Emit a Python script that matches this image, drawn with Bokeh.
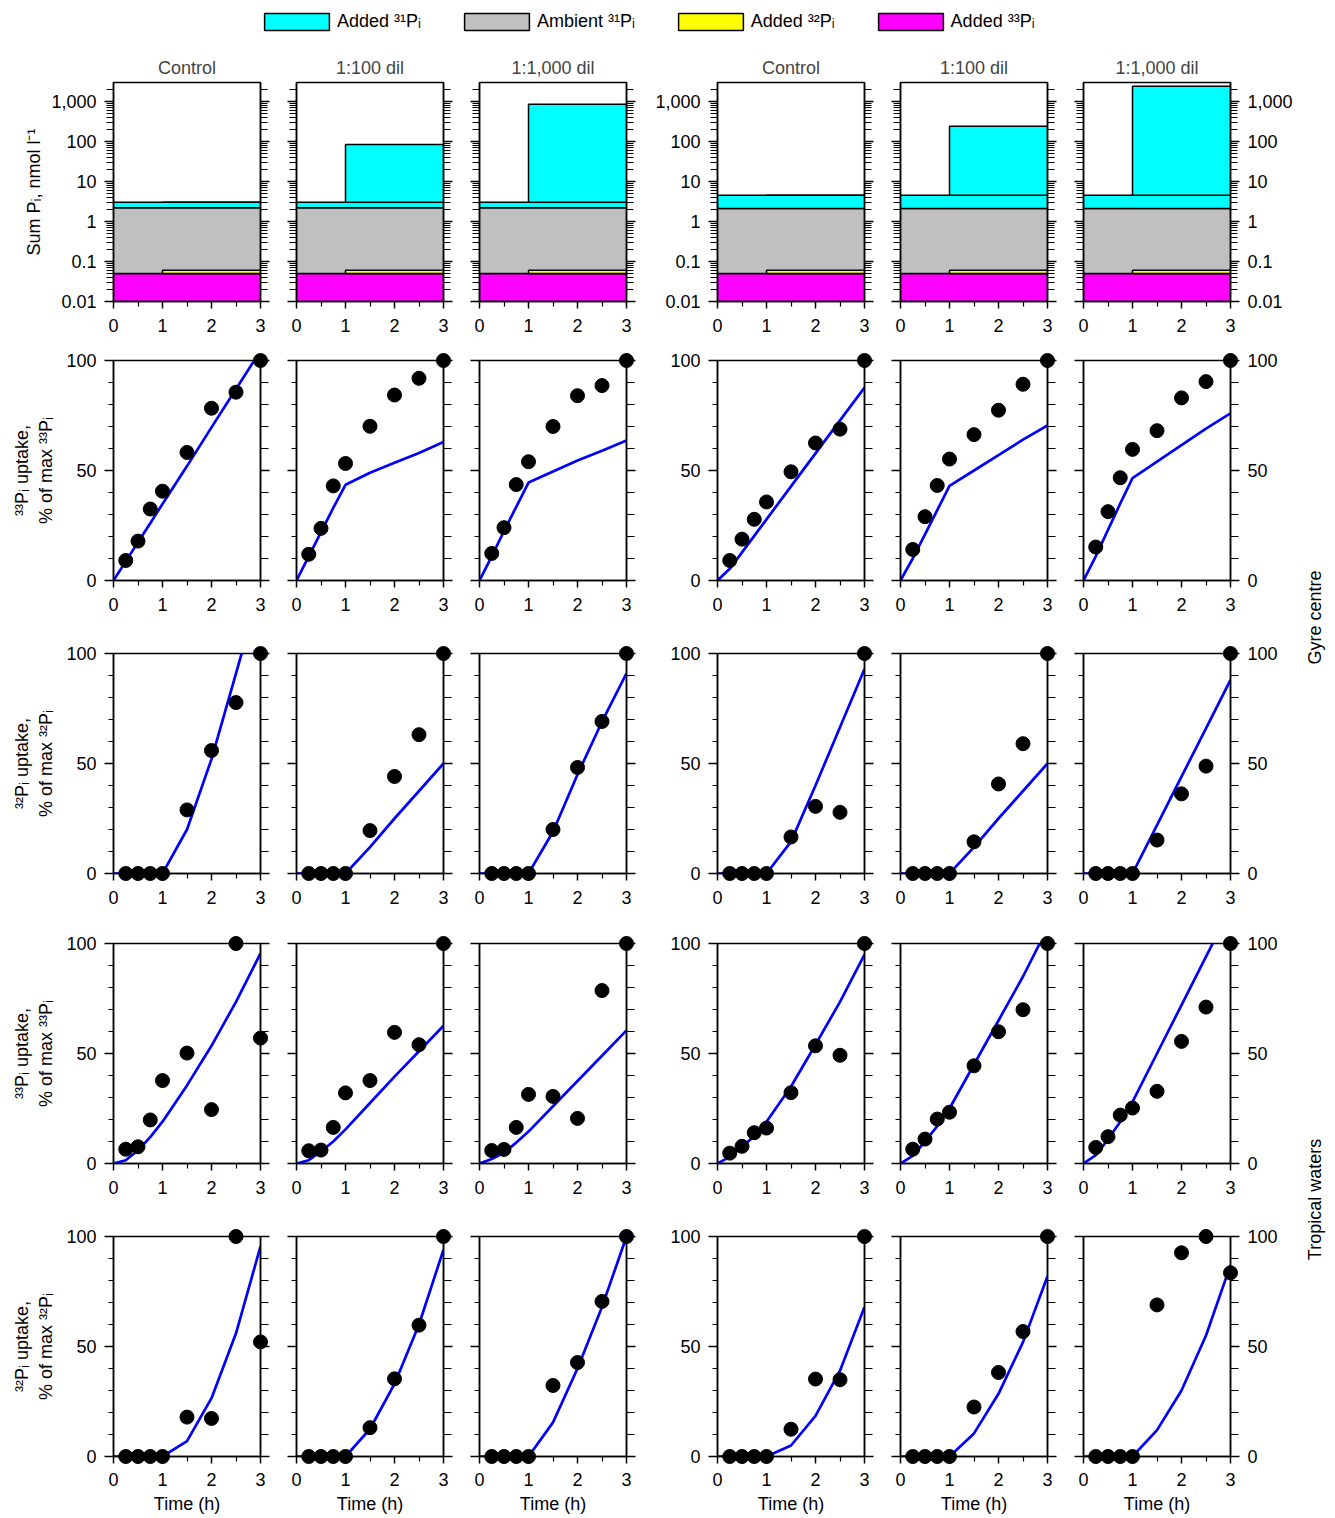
import numpy as np
from bokeh.plotting import figure
from bokeh.models import (LinearAxis, LogAxis, FixedTicker, Range1d, Legend, LegendItem,
                          CustomJSTickFormatter)
from bokeh.layouts import gridplot, column, row
from bokeh.embed import file_html
from bokeh.resources import INLINE
from bokeh.core.properties import value

# ---------------- data ----------------
conditions = ["Control", "1:100 dil", "1:1,000 dil", "Control", "1:100 dil", "1:1,000 dil"]
t_start, t_spike, t_end = 0, 1, 3
sum_floor = 0.01
added33_top = 0.05
added32_top = 0.06
ambient_top = [2.2, 2.2, 2.2, 2.1, 2.1, 2.1]
base31_top = [3.0, 3.0, 3.0, 4.5, 4.5, 4.5]
spike31_top = [3.0, 83, 840, 4.5, 237, 2370]

t_obs = [0.25, 0.5, 0.75, 1, 1.5, 2, 2.5, 3]
t_model = [0, 0.25, 0.5, 0.75, 1, 1.5, 2, 2.5, 3]

gyre33_obs = [
    [9.1, 17.9, 32.5, 40.6, 58.2, 78.3, 85.6, 100],
    [11.9, 23.7, 43.0, 53.2, 70.1, 84.3, 91.9, 100],
    [12.3, 24.0, 43.6, 54.0, 70.0, 84.0, 88.6, 100],
    [9.1, 18.8, 27.8, 35.7, 49.4, 62.5, 68.8, 100],
    [14.1, 29.0, 43.2, 55.2, 66.3, 77.4, 89.2, 100],
    [15.2, 31.3, 46.7, 59.6, 68.1, 83.0, 90.4, 100],
]
gyre33_mod = [
    [0, 8.7, 17.4, 26, 34.8, 52, 69.6, 87, 104.4],
    [0, 11, 22, 33, 43.5, 49, 53.5, 58, 63],
    [0, 11, 22.5, 33.5, 44.5, 49.5, 54.5, 59, 63.6],
    [0, 5.3, 12.8, 20.3, 27.8, 42.8, 57.8, 72.8, 87.7],
    [0, 10, 21, 32, 43, 50, 57, 64, 70.5],
    [0, 11, 23, 35, 46.5, 54, 61.5, 69, 76],
]
gyre32_obs = [
    [0, 0, 0, 0, 28.9, 55.9, 77.7, 100],
    [0, 0, 0, 0, 19.5, 44.1, 63.1, 100],
    [0, 0, 0, 0, 20.0, 48.2, 69.1, 100],
    [0, 0, 0, 0, 16.6, 30.5, 27.8, 100],
    [0, 0, 0, 0, 14.4, 40.7, 59.0, 100],
    [0, 0, 0, 0, 15.2, 36.2, 48.8, 100],
]
gyre32_mod = [
    [0, 0, 0, 0, 0, 20, 52, 91, 130],
    [0, 0, 0, 0, 0, 12, 25, 37.5, 50],
    [0, 0, 0, 0, 0, 19, 45, 69, 91],
    [0, 0, 0, 0, 0, 14.5, 40, 66.5, 93],
    [0, 0, 0, 0, 0, 12, 25, 37.5, 50],
    [0, 0, 0, 0, 0, 22, 44, 66, 88],
]
trop33_obs = [
    [6.5, 7.6, 19.8, 37.7, 50.2, 24.5, 100, 57.0],
    [5.8, 6.1, 16.4, 32.1, 37.7, 59.6, 54.0, 100],
    [5.9, 6.4, 16.4, 31.4, 30.5, 20.5, 78.6, 100],
    [4.7, 7.8, 14.0, 16.1, 32.2, 53.5, 49.2, 100],
    [6.5, 11.1, 20.2, 23.3, 44.4, 59.9, 69.9, 100],
    [7.3, 12.2, 22.0, 25.2, 32.8, 55.5, 71.1, 100],
]
trop33_mod = [
    [0, 1.5, 6, 12, 19, 35.5, 53.5, 73.5, 95.5],
    [0, 1.5, 5.5, 10, 15.5, 27.5, 39.5, 51, 62.6],
    [0, 2, 5, 9.5, 14.5, 26, 37.5, 49, 60.5],
    [0, 3, 7.5, 12.5, 19, 35, 54, 73.5, 95],
    [0, 3.5, 10, 17, 25, 45, 65, 85, 107],
    [0, 3.8, 11, 19, 28, 50, 72, 94, 116],
]
trop32_obs = [
    [0, 0, 0, 0, 17.9, 17.3, 100, 52.1],
    [0, 0, 0, 0, 13.1, 35.3, 59.7, 100],
    [0, 0, 0, 0, 32.3, 42.7, 70.5, 100],
    [0, 0, 0, 0, 12.4, 35.2, 34.9, 100],
    [0, 0, 0, 0, 22.5, 38.2, 56.8, 100],
    [0, 0, 0, 0, 68.9, 92.6, 100, 83.5],
]
trop32_mod = [
    [0, 0, 0, 0, 0, 7, 26.5, 56, 95.5],
    [0, 0, 0, 0, 0, 12.5, 33, 60, 94],
    [0, 0, 0, 0, 0, 15.5, 40, 68, 100],
    [0, 0, 0, 0, 0, 5, 18.5, 39, 68],
    [0, 0, 0, 0, 0, 10.5, 28.5, 52, 82],
    [0, 0, 0, 0, 0, 12, 30, 55, 87],
]
rows_obs = [gyre33_obs, gyre32_obs, trop33_obs, trop32_obs]
rows_mod = [gyre33_mod, gyre32_mod, trop33_mod, trop32_mod]

y_labels = ["Sum P\u1d62, nmol l\u207b\u00b9",
            "\u00b3\u00b3P\u1d62 uptake,\n% of max \u00b3\u00b3P\u1d62",
            "\u00b3\u00b2P\u1d62 uptake,\n% of max \u00b3\u00b2P\u1d62",
            "\u00b3\u00b3P\u1d62 uptake,\n% of max \u00b3\u00b3P\u1d62",
            "\u00b3\u00b2P\u1d62 uptake,\n% of max \u00b3\u00b2P\u1d62"]
legend_labels = ["Added \u00b3\u00b9P\u1d62", "Ambient \u00b3\u00b9P\u1d62",
                 "Added \u00b3\u00b2P\u1d62", "Added \u00b3\u00b3P\u1d62"]
region_labels = ["Gyre centre", "Tropical waters"]

x_major = [0, 1, 2, 3]
x_minor = [0.5, 1.5, 2.5]
pct_major = [0, 50, 100]
pct_minor = [10, 20, 30, 40, 60, 70, 80, 90]
sum_major = [0.01, 0.1, 1, 10, 100, 1000]
sum_top = 2950

# ---------------- style ----------------
FONT = "Liberation Sans"
FS = "18px"
C_CYAN, C_GRAY, C_YELLOW, C_MAGENTA = "#00ffff", "#c0c0c0", "#ffff00", "#ff00ff"
C_LINE = "#0000ff"

COL_L = [113, 18, 18, 71, 18, 18]
COL_R = [18, 18, 20, 18, 18, 66]
ROW_T = [34, 20, 23, 23, 23]
ROW_B = [39, 50, 47, 50, 62]
FRAME_W = 147
FRAME_H = [219, 220, 220, 220, 220]
LEG_H = 48
LAB_W = 37

sum_minor = [k * 10.0 ** e for e in range(-2, 4) for k in range(2, 10) if k * 10.0 ** e < sum_top]
sum_fmt = "return tick.toLocaleString('en-US', {maximumFractionDigits: 3});"


def style_axis(ax, tmaj, tmin, show, standoff=8):
    ax.axis_line_color = "black"
    ax.axis_line_width = 1.5
    ax.major_tick_line_color = "black"
    ax.major_tick_line_width = 1.5
    ax.minor_tick_line_color = "black"
    ax.minor_tick_line_width = 1.2
    ax.major_tick_in = 0
    ax.minor_tick_in = 0
    ax.major_tick_out = tmaj
    ax.minor_tick_out = tmin
    ax.major_label_text_font = FONT
    ax.major_label_text_font_size = FS
    if show:
        ax.major_label_text_color = "black"
        ax.major_label_standoff = standoff
    else:
        ax.major_label_text_color = None
        ax.major_label_standoff = 0
    ax.axis_label_text_font = FONT
    ax.axis_label_text_font_size = FS
    ax.axis_label_text_font_style = "normal"
    ax.axis_label_text_color = "black"


grid = []
for r in range(5):
    rowfigs = []
    for c in range(6):
        common = dict(frame_width=FRAME_W, frame_height=FRAME_H[r],
                      min_border_left=COL_L[c], min_border_right=COL_R[c],
                      min_border_top=ROW_T[r], min_border_bottom=ROW_B[r],
                      toolbar_location=None, output_backend="svg",
                      x_range=Range1d(t_start, t_end))
        if r == 0:
            p = figure(y_axis_type="log", y_range=Range1d(sum_floor, sum_top),
                       title=conditions[c], **common)
            p.title.align = "center"
            p.title.text_font = FONT
            p.title.text_font_size = FS
            p.title.text_font_style = "normal"
            p.title.standoff = 9
            yt = FixedTicker(ticks=sum_major, minor_ticks=sum_minor)
            fmt = CustomJSTickFormatter(code=sum_fmt)
            p.yaxis[0].ticker = yt
            p.yaxis[0].formatter = fmt
            rax = LogAxis(ticker=yt, formatter=fmt)
            p.add_layout(rax, "right")
            # stacked P pools
            p.quad(left=[t_start], right=[t_end], bottom=[sum_floor], top=[added33_top],
                   fill_color=C_MAGENTA, line_color="black", line_width=1.5)
            p.quad(left=[t_start], right=[t_end], bottom=[added33_top], top=[ambient_top[c]],
                   fill_color=C_GRAY, line_color="black", line_width=1.5)
            p.quad(left=[t_spike], right=[t_end], bottom=[added33_top], top=[added32_top],
                   fill_color=C_YELLOW, line_color="black", line_width=1.5)
            p.quad(left=[t_start], right=[t_end], bottom=[ambient_top[c]], top=[base31_top[c]],
                   fill_color=C_CYAN, line_color="black", line_width=1.5)
            p.quad(left=[t_spike], right=[t_end], bottom=[base31_top[c]], top=[spike31_top[c]],
                   fill_color=C_CYAN, line_color="black", line_width=1.5)
            ymaj, ymin = 9, 7
            rmaj, rmin = 9, 7
        else:
            p = figure(y_range=Range1d(0, 100), title=None, **common)
            yt = FixedTicker(ticks=pct_major, minor_ticks=pct_minor)
            p.yaxis[0].ticker = yt
            rax = LinearAxis(ticker=yt)
            p.add_layout(rax, "right")
            p.line(t_model, rows_mod[r - 1][c], line_color=C_LINE, line_width=2.7)
            sc = p.scatter(t_obs, rows_obs[r - 1][c], size=14, fill_color="black",
                           line_color="black")
            sc.level = "overlay"
            ymaj, ymin = 9, 5
            rmaj, rmin = 9, 8

        p.xaxis[0].ticker = FixedTicker(ticks=x_major, minor_ticks=x_minor)
        p.grid.visible = False
        p.outline_line_color = "black"
        p.outline_line_width = 1.5
        p.background_fill_color = "white"
        p.border_fill_color = "white"

        xa = p.xaxis[0]
        style_axis(xa, 7, 5, True, standoff=(9 if r == 4 else 10))
        if r == 4:
            xa.axis_label = "Time (h)"
            xa.axis_label_standoff = 5

        la = p.yaxis[0]
        style_axis(la, ymaj, ymin, c in (0, 3))
        style_axis(rax, rmaj, rmin, c == 5)
        if c == 0:
            la.axis_label = y_labels[r]
            la.axis_label_standoff = 4 if r == 0 else 7
        rowfigs.append(p)
    grid.append(rowfigs)

gp = gridplot(grid, toolbar_location=None)

# legend strip
TOTAL_W = sum(COL_L) + sum(COL_R) + 6 * FRAME_W + LAB_W
lg = figure(width=TOTAL_W, height=LEG_H, x_range=Range1d(0, 1), y_range=Range1d(0, 1),
            min_border=0, toolbar_location=None, output_backend="svg", title=None,
            x_axis_location=None, y_axis_location=None)
lg.grid.visible = False
lg.outline_line_color = None
items = []
for lab, col in zip(legend_labels, [C_CYAN, C_GRAY, C_YELLOW, C_MAGENTA]):
    # legend proxies: kept outside the visible range of this strip
    rr = lg.quad(left=[2], right=[3], bottom=[2], top=[3], fill_color=col,
                 line_color="black", line_width=1.5)
    items.append(LegendItem(label=lab, renderers=[rr]))
leg = Legend(items=items, orientation="horizontal", location=(256, 16),
             glyph_width=81, glyph_height=21, label_standoff=0, spacing=35,
             padding=0, margin=0, border_line_color=None, background_fill_alpha=0,
             label_text_font=FONT, label_text_font_size=FS, label_text_color="black")
lg.add_layout(leg)

# region labels strip
LF_H = sum(ROW_T) + sum(ROW_B) + sum(FRAME_H)
lf = figure(width=LAB_W, height=LF_H, x_range=Range1d(0, LAB_W), y_range=Range1d(0, LF_H),
            min_border=0, toolbar_location=None, output_backend="svg", title=None,
            x_axis_location=None, y_axis_location=None)
lf.grid.visible = False
lf.outline_line_color = None
lf.text(x=[18, 18], y=[LF_H - (617 - LEG_H), LF_H - (1199 - LEG_H)], text=region_labels,
        angle=np.pi / 2, text_align="center", text_baseline="middle", text_font=value(FONT),
        text_font_size=value(FS), text_color="black")

layout = column(lg, row(gp, lf))
open("out.html", "w").write(file_html(layout, INLINE))
